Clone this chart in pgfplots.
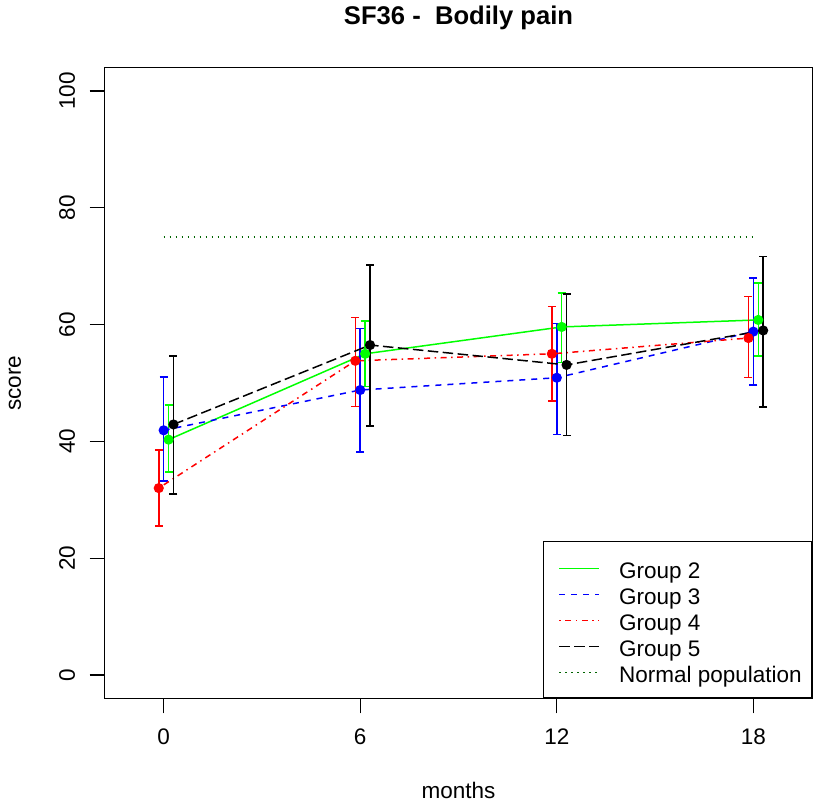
\documentclass[border=0pt]{standalone}
\usepackage{fontspec}
\setmainfont{Liberation Sans}
\usepackage{pgfplots}
\usepackage{pgfplotstable}
\pgfplotsset{compat=1.18}
\definecolor{rgreen}{HTML}{00FF00}
\definecolor{rblue}{HTML}{0000FF}
\definecolor{rred}{HTML}{FF0000}
\definecolor{rdarkgreen}{HTML}{006400}

\pgfplotstableread{
x y lo hi
0.15 40.3 34.8 46.2
6.15 55.0 49.4 60.6
12.15 59.6 53.5 65.4
18.15 60.8 54.6 67.1
}\grptwo
\pgfplotstableread{
x y lo hi
0 41.9 33.2 51.0
6 48.8 38.2 59.3
12 50.9 41.2 60.2
18 58.8 49.7 68.0
}\grpthree
\pgfplotstableread{
x y lo hi
-0.15 32.0 25.5 38.5
5.85 53.8 46.0 61.2
11.85 55.0 46.9 63.1
17.85 57.7 50.9 64.8
}\grpfour
\pgfplotstableread{
x y lo hi
0.3 42.9 31.0 54.6
6.3 56.5 42.6 70.2
12.3 53.1 41.0 65.2
18.3 59.0 45.9 71.7
}\grpfive

\pgfplotsset{
  errstyle/.style={
    error bars/y dir=both, error bars/y explicit,
    error bars/error bar style={line width=1.5pt, solid},
    error bars/error mark options={rotate=90, mark size=4pt, line width=1.5pt, solid}
  }
}

\begin{document}
\begin{tikzpicture}
\path[use as bounding box] (0,0) rectangle (814pt,804pt);
\begin{axis}[
  at={(104.7pt,105.7pt)}, anchor=south west, scale only axis,
  width=707.6pt, height=630.6pt,
  xmin=-1.8, xmax=19.8, ymin=-4, ymax=104,
  xtick={0,6,12,18}, ytick={0,20,40,60,80,100},
  tick pos=left, tick align=outside, major tick length=15pt,
  every tick/.style={black, line width=1.3pt},
  axis line style={line width=1.3pt},
  ticklabel style={font=\fontsize{22.5}{26}\selectfont},
  /pgf/number format/assume math mode=true,
  yticklabel style={rotate=90, anchor=south},
  xticklabel shift=12pt, yticklabel shift=11pt,
  title={SF36 -\ \ Bodily pain},
  title style={font=\bfseries\fontsize{25.6}{30}\selectfont, at={(axis description cs:0.5,1.0693)}, anchor=center},
  xlabel={months},
  xlabel style={font=\fontsize{22.5}{26}\selectfont, at={(axis description cs:0.5,-0.1454)}, anchor=center},
  ylabel={score},
  ylabel style={font=\fontsize{22.5}{26}\selectfont, at={(axis description cs:-0.1268,0.5)}, anchor=center},
  legend style={at={(1,0)}, anchor=south east, draw=black, line width=1.3pt,
    font=\fontsize{22.5}{26}\selectfont, cells={anchor=base west},
    nodes={inner sep=2pt, text height=22pt, text depth=0pt},
    inner xsep=8pt, inner ysep=13pt, row sep=0pt, column sep=17pt},
  legend image code/.code={\path (0pt,0pt); \draw[#1] (7pt,10pt) -- (47pt,10pt);},
]
\addplot[rgreen, line width=1.5pt, solid, mark=*, mark size=4.3pt, mark options={solid, fill=rgreen}, errstyle, forget plot]
  table[x=x, y=y, y error plus expr=\thisrow{hi}-\thisrow{y}, y error minus expr=\thisrow{y}-\thisrow{lo}] {\grptwo};
\addplot[rblue, line width=1.5pt, dash pattern=on 6pt off 6pt, mark=*, mark size=4.3pt, mark options={solid, fill=rblue}, errstyle, forget plot]
  table[x=x, y=y, y error plus expr=\thisrow{hi}-\thisrow{y}, y error minus expr=\thisrow{y}-\thisrow{lo}] {\grpthree};
\addplot[rred, line width=1.5pt, dash pattern=on 1.5pt off 4.5pt on 6pt off 4.5pt, mark=*, mark size=4.3pt, mark options={solid, fill=rred}, errstyle, forget plot]
  table[x=x, y=y, y error plus expr=\thisrow{hi}-\thisrow{y}, y error minus expr=\thisrow{y}-\thisrow{lo}] {\grpfour};
\addplot[black, line width=1.5pt, dash pattern=on 10.5pt off 4.5pt, mark=*, mark size=4.3pt, mark options={solid, fill=black}, errstyle, forget plot]
  table[x=x, y=y, y error plus expr=\thisrow{hi}-\thisrow{y}, y error minus expr=\thisrow{y}-\thisrow{lo}] {\grpfive};
\addplot[rdarkgreen, line width=1.5pt, dash pattern=on 1.5pt off 4.5pt, forget plot] coordinates {(0,75) (18,75)};

\addlegendimage{rgreen, line width=1.5pt, solid}
\addlegendentry{Group 2}
\addlegendimage{rblue, line width=1.5pt, dash pattern=on 6pt off 6pt}
\addlegendentry{Group 3}
\addlegendimage{rred, line width=1.5pt, dash pattern=on 1.5pt off 4.5pt on 6pt off 4.5pt}
\addlegendentry{Group 4}
\addlegendimage{black, line width=1.5pt, dash pattern=on 10.5pt off 4.5pt}
\addlegendentry{Group 5}
\addlegendimage{rdarkgreen, line width=1.5pt, dash pattern=on 1.5pt off 4.5pt}
\addlegendentry{Normal population}
\end{axis}
\end{tikzpicture}
\end{document}
